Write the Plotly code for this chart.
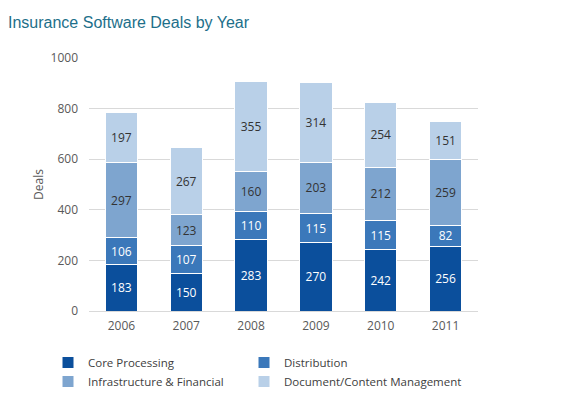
import plotly.graph_objects as go

years = ["2006", "2007", "2008", "2009", "2010", "2011"]
core = [183, 150, 283, 270, 242, 256]
distribution = [106, 107, 110, 115, 115, 82]
infrastructure = [297, 123, 160, 203, 212, 259]
document = [197, 267, 355, 314, 254, 151]

series = [
    ("Core Processing", core, "#0b4f9c", "white", "legend"),
    ("Distribution", distribution, "#3b78ba", "white", "legend2"),
    ("Infrastructure & Financial", infrastructure, "#7ea5cf", "#333333", "legend"),
    ("Document/Content Management", document, "#b9d0e8", "#333333", "legend2"),
]

fig = go.Figure()
for name, vals, color, tcolor, leg in series:
    fig.add_trace(go.Bar(
        x=years, y=vals, name=name, legend=leg,
        marker=dict(color=color, line=dict(color="white", width=1)),
        text=[str(v) for v in vals],
        textposition="inside", insidetextanchor="middle", textangle=0,
        constraintext="none",
        textfont=dict(family="Open Sans", size=12, color=tcolor),
    ))

legend_common = dict(orientation="v", traceorder="normal",
                     xanchor="left", xref="paper", yref="paper", yanchor="top",
                     y=-(348 - 311) / 253, itemwidth=30, tracegroupgap=0,
                     bgcolor="rgba(0,0,0,0)",
                     font=dict(family="Open Sans", size=11.5, color="#404040"))

fig.update_layout(
    barmode="stack",
    bargap=0.5,
    width=574, height=394,
    margin=dict(l=89, r=96, t=58, b=83, autoexpand=False),
    paper_bgcolor="white", plot_bgcolor="white",
    title=dict(text="Insurance Software Deals by Year",
               font=dict(family="Liberation Sans", size=16, color="#1d6f8a"),
               x=8 / 574, xanchor="left", xref="container",
               y=1 - 22 / 394, yanchor="middle", yref="container"),
    font=dict(family="Open Sans", color="#595959"),
    showlegend=True,
    legend=dict(x=(48 - 89) / 389, **legend_common),
    legend2=dict(x=(244 - 89) / 389, **legend_common),
    yaxis=dict(range=[0, 1000], dtick=200, showgrid=True, gridcolor="#d9d9d9",
               gridwidth=1, zeroline=False, showline=False,
               ticks="", ticklen=0, ticklabelstandoff=10,
               tickfont=dict(family="Open Sans", size=12, color="#595959"),
               title=dict(text="Deals", font=dict(family="Open Sans", size=12, color="#595959"),
                          standoff=4)),
    xaxis=dict(showgrid=False, showline=True, linecolor="#d9d9d9", linewidth=1,
               ticks="", ticklabelstandoff=4,
               tickfont=dict(family="Open Sans", size=12, color="#595959")),
)

fig.write_html("out.html")
